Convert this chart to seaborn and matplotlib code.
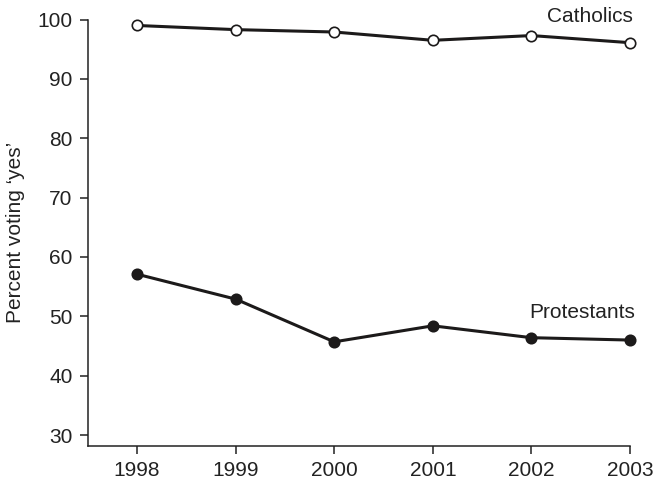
import matplotlib
matplotlib.use("Agg")
import matplotlib.pyplot as plt
import seaborn as sns
import pandas as pd

years = [1998, 1999, 2000, 2001, 2002, 2003]
catholics = [99.0, 98.3, 97.9, 96.5, 97.3, 96.1]
protestants = [57.1, 52.9, 45.7, 48.4, 46.4, 46.0]
y_ticks = [30, 40, 50, 60, 70, 80, 90, 100]

sns.set_style("ticks")
plt.rcParams['font.family'] = ['Liberation Sans', 'DejaVu Sans']

df = pd.DataFrame({
    "year": years * 2,
    "pct": catholics + protestants,
    "group": ["Catholics"] * len(years) + ["Protestants"] * len(years),
})

fig = plt.figure(figsize=(6.56, 4.8), dpi=100)
ax = fig.add_axes([0.1337, 0.0708, 0.8267, 0.8885])

ink = "#1c1a1a"
sns.lineplot(data=df[df.group == "Catholics"], x="year", y="pct", ax=ax,
             color=ink, lw=2.2, marker="o", markersize=7.5,
             markerfacecolor="white", markeredgecolor=ink, markeredgewidth=1.2,
             clip_on=False, zorder=3)
sns.lineplot(data=df[df.group == "Protestants"], x="year", y="pct", ax=ax,
             color=ink, lw=2.2, marker="o", markersize=7.5,
             markerfacecolor=ink, markeredgecolor=ink, markeredgewidth=1.2,
             clip_on=False, zorder=3)

fs = 15
ax.set_xlim(1997.5, 2003)
ax.set_ylim(28.15, 100)
ax.set_xticks(years)
ax.set_yticks(y_ticks)
ax.set_xlabel("")
ax.set_ylabel("Percent voting \u2018yes\u2019", fontsize=fs, color="#222222", labelpad=9)
ax.tick_params(axis="both", direction="out", length=6, width=1.1, pad=5,
               labelsize=fs, colors="#222222")
for s in ["top", "right"]:
    ax.spines[s].set_visible(False)
for s in ["left", "bottom"]:
    ax.spines[s].set_linewidth(1.1)
    ax.spines[s].set_color("#222222")

ax.text(2003.03, 100.5, "Catholics", ha="right", va="center", fontsize=fs, color="#222222")
ax.text(2003.05, 50.6, "Protestants", ha="right", va="center", fontsize=fs, color="#222222")

fig.savefig("out.png", dpi=100)
